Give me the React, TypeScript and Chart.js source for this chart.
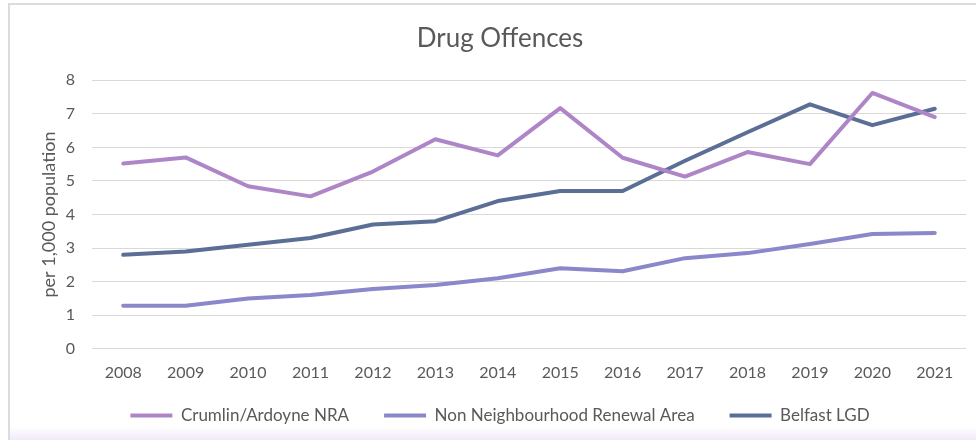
import React, { useEffect, useRef } from "react";
import { Chart, registerables } from "chart.js";

Chart.register(...registerables);

const years = ["2008","2009","2010","2011","2012","2013","2014","2015","2016","2017","2018","2019","2020","2021"];
const crumlin = [5.52, 5.7, 4.84, 4.54, 5.28, 6.24, 5.76, 7.17, 5.69, 5.13, 5.86, 5.5, 7.62, 6.9];
const nonNRA = [1.28, 1.28, 1.5, 1.6, 1.78, 1.9, 2.1, 2.4, 2.31, 2.7, 2.85, 3.12, 3.42, 3.45];
const belfast = [2.8, 2.9, 3.1, 3.3, 3.7, 3.8, 4.4, 4.7, 4.7, 5.6, 6.45, 7.28, 6.66, 7.15];

const FONT = "Lato, 'Open Sans', sans-serif";
const TXT = "#595959";
const SHIFT = 24;

// Let the legend reserve less layout height while still drawing its row at the same place.
const legendShift = {
  id: "legendShift",
  beforeLayout(chart: any) {
    const lg: any = chart.legend;
    if (lg && !lg.__patched) {
      const f = lg.fit.bind(lg);
      lg.fit = () => { f(); lg.height -= SHIFT; };
      lg.__patched = true;
    }
  },
  afterLayout(chart: any) {
    const lg: any = chart.legend;
    if (lg) { lg.top -= SHIFT; lg.height += SHIFT; }
  },
};

export default function App() {
  const ref = useRef<HTMLCanvasElement>(null);
  useEffect(() => {
    document.body.style.margin = "0";
    const ctx = ref.current!;
    const mk = (label: string, data: number[], color: string) => ({
      label, data, borderColor: color, backgroundColor: color, borderWidth: 4,
      pointRadius: 0, tension: 0, borderCapStyle: "round" as const, borderJoinStyle: "round" as const, fill: false,
    });
    const chart = new Chart(ctx, {
      type: "line",
      data: {
        labels: years,
        datasets: [
          mk("Crumlin/Ardoyne NRA", crumlin, "#AE86C8"),
          mk("Non Neighbourhood Renewal Area", nonNRA, "#8A87CA"),
          mk("Belfast LGD", belfast, "#5A6E96"),
        ],
      },
      plugins: [legendShift],
      options: {
        animation: false,
        responsive: false,
        maintainAspectRatio: false,
        layout: { padding: { left: 34, right: 10, top: 0, bottom: 6 } },
        plugins: {
          title: {
            display: true, text: "Drug Offences", color: TXT,
            font: { family: FONT, size: 26, weight: "normal" },
            padding: { top: 23, bottom: 26 },
          },
          legend: {
            position: "bottom",
            labels: {
              color: TXT, font: { family: FONT, size: 17 },
              boxWidth: 42, boxHeight: 4, padding: 35,
              generateLabels: (c: any) =>
                Chart.defaults.plugins.legend.labels.generateLabels(c).map((l: any) => ({ ...l, lineWidth: 0 })),
            },
          },
          tooltip: { enabled: false },
        },
        scales: {
          x: {
            offset: true,
            grid: { display: false, drawTicks: false, offset: true },
            border: { display: false },
            ticks: { color: TXT, font: { family: FONT, size: 16 }, padding: 14, maxRotation: 0 },
          },
          y: {
            min: 0, max: 8,
            afterFit: (s: any) => { s.width = 58; },
            grid: { color: "#D9D9D9", lineWidth: 1, drawTicks: false },
            border: { display: false },
            ticks: { stepSize: 1, color: TXT, font: { family: FONT, size: 16 }, padding: 17 },
            title: { display: true, text: "per 1,000 population", color: TXT, font: { family: FONT, size: 18 } },
          },
        },
      },
    });
    return () => chart.destroy();
  }, []);
  return (
    <div style={{ position: "relative", width: 976, height: 440, background: "#fff", overflow: "hidden" }}>
      <div style={{ position: "absolute", left: 8, top: 3, right: -4, bottom: 0, borderLeft: "2px solid #DCDCDC", borderTop: "2px solid #DCDCDC" }} />
      <div style={{ position: "absolute", left: 10, right: 0, top: 426, bottom: 0, background: "linear-gradient(#ffffff, #F1EAF8)" }} />
      <canvas ref={ref} width={976} height={440} style={{ position: "absolute", left: 0, top: 0 }} />
    </div>
  );
}
